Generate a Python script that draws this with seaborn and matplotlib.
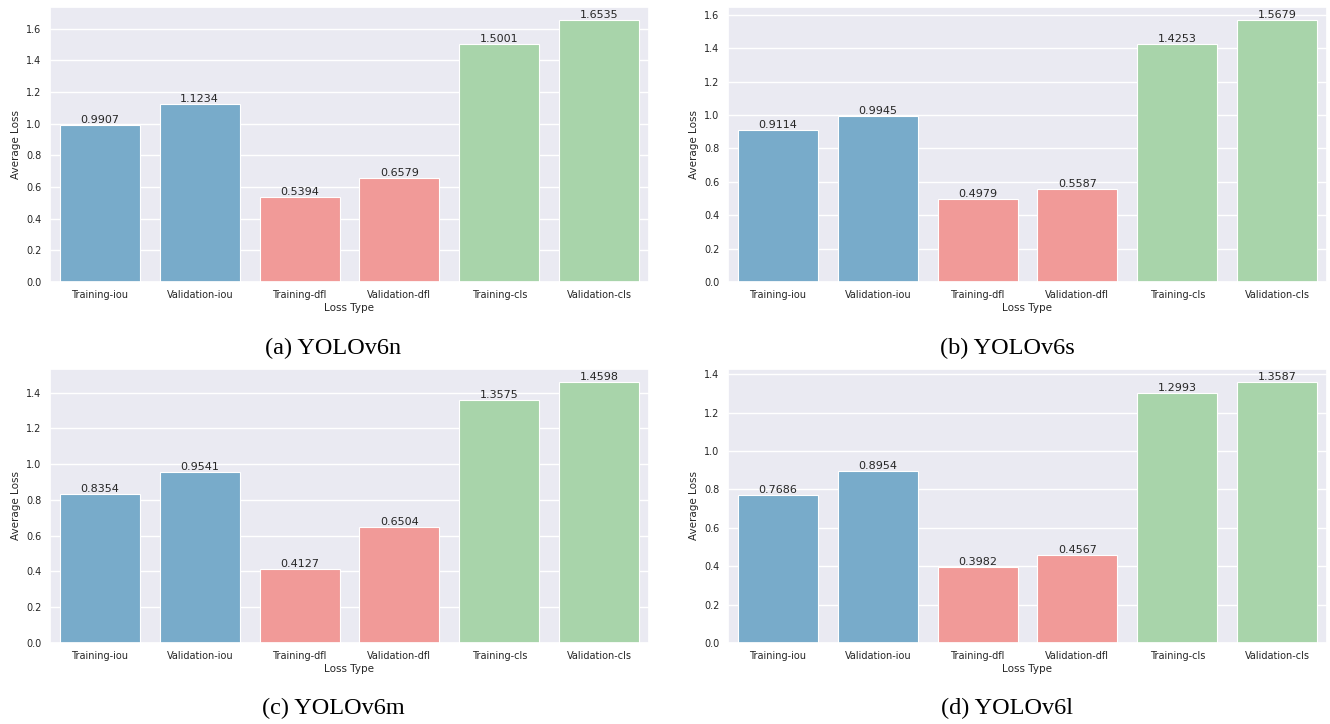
import matplotlib
matplotlib.use("Agg")
import matplotlib.pyplot as plt
import seaborn as sns
import pandas as pd

loss_types = ["Training-iou", "Validation-iou", "Training-dfl",
              "Validation-dfl", "Training-cls", "Validation-cls"]

yolov6n = [0.9907, 1.1234, 0.5394, 0.6579, 1.5001, 1.6535]
yolov6s = [0.9114, 0.9945, 0.4979, 0.5587, 1.4253, 1.5679]
yolov6m = [0.8354, 0.9541, 0.4127, 0.6504, 1.3575, 1.4598]
yolov6l = [0.7686, 0.8954, 0.3982, 0.4567, 1.2993, 1.3587]

captions = ["(a) YOLOv6n", "(b) YOLOv6s", "(c) YOLOv6m", "(d) YOLOv6l"]

bar_colors = ["#78abca", "#78abca", "#f19a98", "#f19a98", "#a8d4aa", "#a8d4aa"]

sns.set_theme(style="darkgrid")

W, H = 1330, 724
fig = plt.figure(figsize=(W / 100, H / 100), dpi=100)

# panel boxes in pixels: (left, top, right, bottom)
boxes = [(50, 7, 649, 282), (728, 7, 1327, 282),
         (50, 369, 649, 643), (728, 369, 1327, 643)]
caption_x = [333, 1007]
caption_base = [354, 714]

series = [yolov6n, yolov6s, yolov6m, yolov6l]

for i, (vals, cap, box) in enumerate(zip(series, captions, boxes)):
    l, t, r, b = box
    ax = fig.add_axes([l / W, 1 - b / H, (r - l) / W, (b - t) / H])
    df = pd.DataFrame({"Loss Type": loss_types, "Average Loss": vals})
    sns.barplot(data=df, x="Loss Type", y="Average Loss", hue="Loss Type",
                palette=bar_colors, saturation=1, legend=False, ax=ax,
                width=0.8, edgecolor="white", linewidth=0.8)
    for cont in ax.containers:
        ax.bar_label(cont, fmt="%.4f", fontsize=8, color="#262626", padding=0)
    ax.set_ylim(0, max(vals) * 1.05)
    ax.tick_params(axis="both", labelsize=7, length=0)
    ax.tick_params(axis="x", pad=6)
    ax.tick_params(axis="y", pad=6)
    ax.set_xlabel("Loss Type", fontsize=7.5, labelpad=2)
    ax.set_ylabel("Average Loss", fontsize=7.5, labelpad=4)
    cx = caption_x[i % 2] / W
    cy = 1 - caption_base[i // 2] / H
    fig.text(cx, cy, cap, ha="center", va="baseline",
             family="Liberation Serif", fontsize=17.5, color="black")

fig.savefig("out.png", dpi=100)
